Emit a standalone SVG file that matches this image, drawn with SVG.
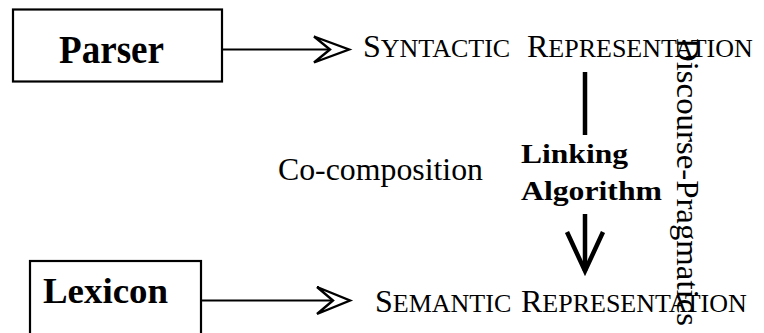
<svg xmlns="http://www.w3.org/2000/svg" width="764" height="333" viewBox="0 0 764 333">
  <style>
    .box { fill: #fff; stroke: #000; stroke-width: 2.2; }
    .line { stroke: #000; stroke-width: 2.2; fill: none; }
    .head { fill: #fff; stroke: #000; stroke-width: 2.4; stroke-linejoin: miter; }
    .bold { font-family: "Liberation Serif", "Times New Roman", serif; font-weight: bold; fill: #000; }
    .rom { font-family: "Liberation Serif", "Times New Roman", serif; fill: #000; }
    .big { font-size: 32px; }
    .sc { font-size: 26px; }
    .thick { stroke: #000; stroke-width: 4.5; fill: none; }
  </style>

  <g id="parser">
    <rect class="box" x="13" y="9.5" width="209" height="72"/>
    <text class="bold" x="59" y="63" font-size="40" textLength="105" lengthAdjust="spacingAndGlyphs">Parser</text>
  </g>

  <g id="lexicon">
    <rect class="box" x="30" y="261" width="171" height="90"/>
    <text class="bold" x="43" y="303" font-size="36" textLength="125" lengthAdjust="spacingAndGlyphs">Lexicon</text>
  </g>

  <!-- small-caps labels: large initial capital followed by smaller capitals -->
  <g id="syntactic-representation">
    <text class="rom" x="363" y="57"><tspan class="big">S</tspan><tspan class="sc">YNTACTIC</tspan></text>
    <text class="rom" x="527" y="57"><tspan class="big">R</tspan><tspan class="sc">EPRESENTATION</tspan></text>
  </g>

  <g id="semantic-representation">
    <text class="rom" x="375" y="312"><tspan class="big">S</tspan><tspan class="sc">EMANTIC</tspan></text>
    <text class="rom" x="521" y="312"><tspan class="big">R</tspan><tspan class="sc">EPRESENTATION</tspan></text>
  </g>

  <g id="co-composition">
    <text class="rom" x="278" y="180" font-size="32" textLength="205" lengthAdjust="spacingAndGlyphs">Co-composition</text>
  </g>

  <g id="linking-algorithm">
    <text class="bold" x="521" y="163" font-size="28" textLength="107" lengthAdjust="spacingAndGlyphs">Linking</text>
    <text class="bold" x="521" y="200" font-size="28" textLength="141" lengthAdjust="spacingAndGlyphs">Algorithm</text>
  </g>

  <g id="discourse-pragmatics">
    <text class="rom" font-size="31" transform="translate(677,38) rotate(90)" textLength="288" lengthAdjust="spacingAndGlyphs">Discourse-Pragmatics</text>
  </g>

  <g id="connectors">
    <!-- Parser to syntactic representation -->
    <line class="line" x1="223" y1="49.5" x2="331" y2="49.5"/>
    <polygon class="head" points="314,36.5 349,49.5 314,62.5 330,49.5"/>
    <!-- Lexicon to semantic representation -->
    <line class="line" x1="202" y1="300.5" x2="333" y2="300.5"/>
    <polygon class="head" points="317,287 350,300.5 317,314 333,300.5"/>
    <!-- linking: upper stroke and lower arrow -->
    <line class="thick" x1="585" y1="72" x2="585" y2="135"/>
    <line class="thick" x1="585" y1="214" x2="585" y2="271"/>
    <polyline class="thick" points="567,232 585,271 603,232"/>
  </g>
</svg>
